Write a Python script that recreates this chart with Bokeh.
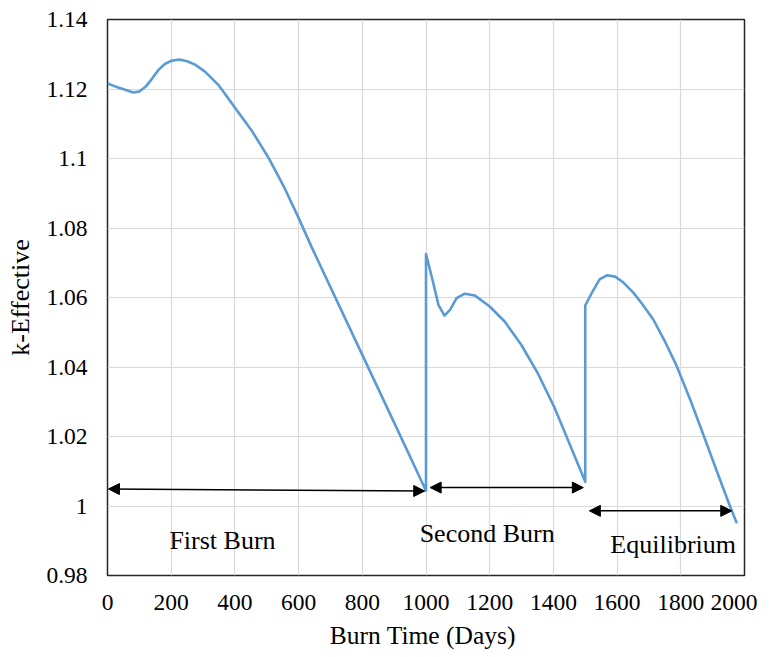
from bokeh.plotting import figure
from bokeh.models import (ColumnDataSource, FixedTicker, NumeralTickFormatter,
                          Arrow, NormalHead, Range1d)
from bokeh.core.properties import value
from bokeh.embed import file_html
from bokeh.resources import INLINE

# ---- data ----
first_days = [0, 34, 81, 100, 120, 140, 160, 180, 200, 225, 250, 275, 306, 348, 398,
              453, 505, 557, 601, 641, 700, 800, 900, 1000]
first_k = [1.1216, 1.1204, 1.1190, 1.1193, 1.1207, 1.1230, 1.1255, 1.1272, 1.1281,
           1.1285, 1.1280, 1.1270, 1.1250, 1.1212, 1.1149, 1.1080, 1.1003, 1.0913,
           1.0827, 1.0745, 1.0630, 1.0435, 1.0240, 1.0044]
second_days = [1000, 1019, 1039, 1058, 1076, 1096, 1122, 1153, 1200, 1247, 1299, 1351,
               1402, 1448, 1500]
second_k = [1.0725, 1.0656, 1.0579, 1.0548, 1.0565, 1.0598, 1.0611, 1.0606, 1.0574,
            1.0531, 1.0464, 1.0382, 1.0286, 1.0185, 1.0070]
equil_days = [1500, 1521, 1545, 1568, 1594, 1620, 1651, 1680, 1714, 1750, 1788, 1830,
              1870, 1910, 1950, 1976]
equil_k = [1.0577, 1.0614, 1.0652, 1.0664, 1.0660, 1.0643, 1.0614, 1.0580, 1.0536,
           1.0474, 1.0401, 1.0305, 1.0207, 1.0108, 1.0010, 0.9950]

burn_days = first_days + second_days + equil_days
k_eff = first_k + second_k + equil_k

x_ticks = [0, 200, 400, 600, 800, 1000, 1200, 1400, 1600, 1800, 2000]
y_ticks = [0.98, 1.0, 1.02, 1.04, 1.06, 1.08, 1.1, 1.12, 1.14]

label_text = ["First Burn", "Second Burn", "Equilibrium"]
label_x = [361, 1192, 1776]
label_y = [0.9900, 0.9920, 0.9888]

arrow_x0 = [3, 1013, 1513]
arrow_x1 = [996, 1494, 1960]
arrow_y0 = [1.0049, 1.0053, 0.9986]
arrow_y1 = [1.0043, 1.0053, 0.9986]

FONT = "Liberation Serif"

p = figure(frame_width=637, frame_height=556,
           x_range=Range1d(0, 2000), y_range=Range1d(0.98, 1.14),
           output_backend="svg", toolbar_location=None,
           min_border_left=107, min_border_top=19, min_border_right=13,
           min_border_bottom=72)

p.line(burn_days, k_eff, line_color="#5b9bd5", line_width=2.6, line_join="round")

for xs, xe, ys, ye in zip(arrow_x0, arrow_x1, arrow_y0, arrow_y1):
    p.add_layout(Arrow(x_start=xs, y_start=ys, x_end=xe, y_end=ye,
                       line_color="black", line_width=1.5,
                       start=NormalHead(size=11, fill_color="black", line_color="black"),
                       end=NormalHead(size=11, fill_color="black", line_color="black")))

src = ColumnDataSource(dict(x=label_x, y=label_y, t=label_text))
p.text(x="x", y="y", text="t", source=src, text_font=value(FONT),
       text_font_size="26px", text_align="center", text_baseline="middle",
       text_color="black")

p.xaxis.ticker = FixedTicker(ticks=x_ticks)
p.yaxis.ticker = FixedTicker(ticks=y_ticks)
p.yaxis.formatter = NumeralTickFormatter(format="0.[00]")
for ax in (p.xaxis, p.yaxis):
    ax.major_tick_line_color = None
    ax.minor_tick_line_color = None
    ax.axis_line_color = None
    ax.major_label_text_font = FONT
    ax.major_label_text_font_size = "23.5px"
    ax.major_label_text_color = "black"
    ax.axis_label_text_font = FONT
    ax.axis_label_text_font_style = "normal"
    ax.axis_label_text_color = "black"

p.xaxis.axis_label = "Burn Time  (Days)"
p.yaxis.axis_label = "k-Effective"
p.xaxis.axis_label_text_font_size = "25.5px"
p.yaxis.axis_label_text_font_size = "26px"
p.xaxis.major_label_standoff = 13
p.yaxis.major_label_standoff = 14
p.xaxis.axis_label_standoff = 8
p.yaxis.axis_label_standoff = 8

p.xgrid.grid_line_color = "#d9d9d9"
p.ygrid.grid_line_color = "#d9d9d9"
p.xgrid.grid_line_width = 1.2
p.ygrid.grid_line_width = 1.2
p.outline_line_color = "#262626"
p.outline_line_width = 1.5
p.background_fill_color = "white"
p.border_fill_color = "white"

open("out.html", "w").write(file_html(p, INLINE))
